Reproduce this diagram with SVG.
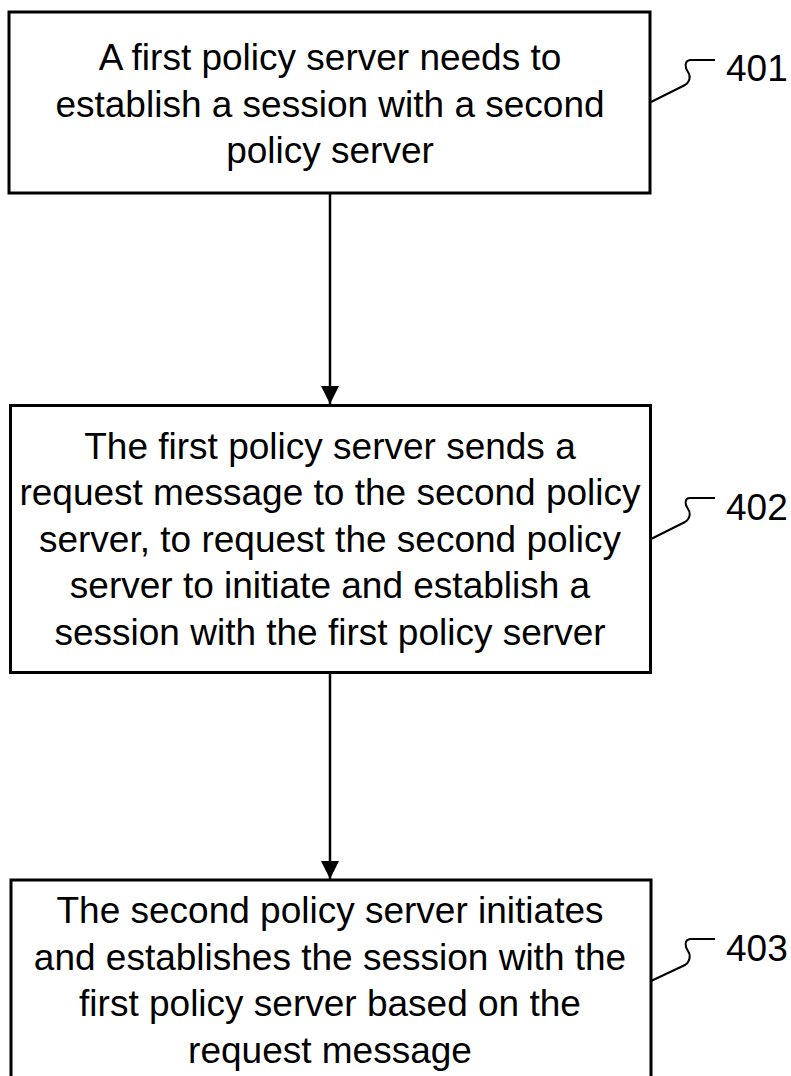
<svg xmlns="http://www.w3.org/2000/svg" width="791" height="1076" viewBox="0 0 791 1076">
  <defs>
    <style>
      .box { fill: #ffffff; stroke: #000000; stroke-width: 3; }
      .txt { font-family: "Liberation Sans", Arial, sans-serif; font-size: 37px; fill: #000000; text-anchor: middle; }
      .ref { font-family: "Liberation Sans", Arial, sans-serif; font-size: 37px; fill: #000000; }
      .edge { fill: none; stroke: #000000; stroke-width: 2.5; }
      .lead { fill: none; stroke: #000000; stroke-width: 2; }
    </style>
    <marker id="arrow" viewBox="0 0 18 18" refX="18" refY="9" markerWidth="18" markerHeight="18" markerUnits="userSpaceOnUse" orient="auto">
      <path d="M0,0 L18,9 L0,18 Z" fill="#000000"/>
    </marker>
  </defs>
  <rect width="791" height="1076" fill="#ffffff"/>

  <g id="connectors">
    <line class="edge" x1="330" y1="193" x2="330" y2="404" marker-end="url(#arrow)"/>
    <line class="edge" x1="330" y1="672" x2="330" y2="879" marker-end="url(#arrow)"/>
  </g>

  <g id="step401">
    <rect class="box" x="9" y="12" width="641" height="181"/>
    <text class="txt" x="330" y="70">A first policy server needs to</text>
    <text class="txt" x="330" y="116.5">establish a session with a second</text>
    <text class="txt" x="330" y="163">policy server</text>
    <path class="lead" d="M651,102 L685,85 C690,82 691,76 688,72 C685,68 684,61 690,60 L715,60"/>
    <text class="ref" x="726" y="81">401</text>
  </g>

  <g id="step402">
    <rect class="box" x="10.5" y="405.5" width="640" height="267"/>
    <text class="txt" x="330" y="458.5">The first policy server sends a</text>
    <text class="txt" x="330" y="505">request message to the second policy</text>
    <text class="txt" x="330" y="551.5">server, to request the second policy</text>
    <text class="txt" x="330" y="598">server to initiate and establish a</text>
    <text class="txt" x="330" y="644.5">session with the first policy server</text>
    <path class="lead" d="M651,539 L685,522 C690,519 691,513 688,509 C685,505 684,498 690,498 L715,498"/>
    <text class="ref" x="726" y="520">402</text>
  </g>

  <g id="step403">
    <rect class="box" x="11" y="880" width="640" height="200"/>
    <text class="txt" x="330" y="923">The second policy server initiates</text>
    <text class="txt" x="330" y="970">and establishes the session with the</text>
    <text class="txt" x="330" y="1016">first policy server based on the</text>
    <text class="txt" x="330" y="1063">request message</text>
    <path class="lead" d="M651,981 L685,965 C690,962 691,955 688,951 C685,947 684,940 690,939 L715,939"/>
    <text class="ref" x="726" y="961">403</text>
  </g>
</svg>
